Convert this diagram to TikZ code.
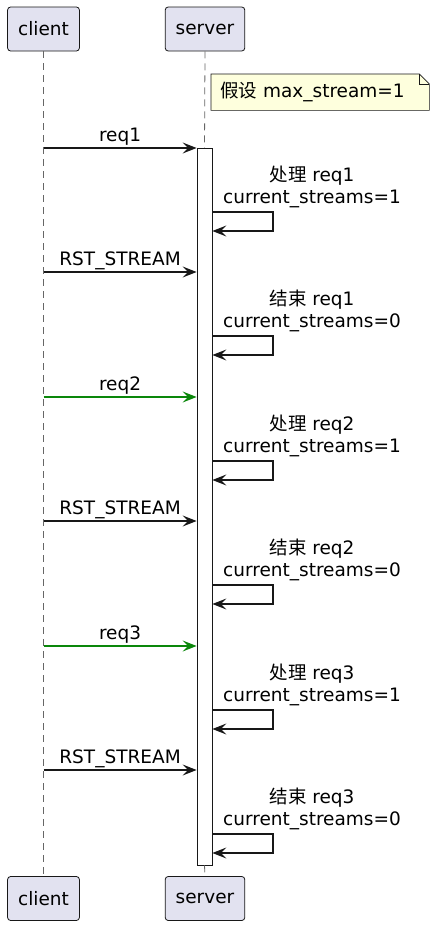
\documentclass[tikz,border=0pt]{standalone}
\usepackage{fontspec}
\setmainfont{DejaVu Sans}
\newfontfamily\cjk{Noto Sans CJK SC}
\usepackage{xcolor}
\usepackage{tikz}
\usetikzlibrary{positioning,arrows.meta}
\definecolor{partfill}{HTML}{E2E2F0}
\definecolor{notefill}{HTML}{FEFFDD}
\definecolor{ink}{HTML}{181818}
\definecolor{msggreen}{HTML}{0A870A}
\newcommand{\diagfont}{\fontsize{18.5}{22}\selectfont}

\begin{document}
\begin{tikzpicture}[x=1pt, y=-1pt,
  part/.style={draw=ink, fill=partfill, rounded corners=3pt, line width=0.8pt,
               minimum height=44pt, inner xsep=10.5pt, font=\diagfont},
  life/.style={draw=black!60, line width=0.8pt, dash pattern=on 7pt off 5pt},
  msg/.style={-{Stealth[length=14pt,width=11pt,inset=5.5pt]}, line width=1.1pt, color=ink},
  lbl/.style={font=\diagfont, inner sep=0pt, text=black},
]
\useasboundingbox (0,0) rectangle (439,929);

% participants
\node[part] (cliT) at (43.5,29) {client};
\node[part] (srvT) at (205,29) {server};
\node[part] (cliB) at (43.5,898.5) {client};
\node[part] (srvB) at (205,898.5) {server};

% lifelines and activation
\node[draw=ink, fill=white, line width=0.8pt, minimum width=15pt, minimum height=717pt,
      inner sep=0pt] (act) at (204.5,506.5) {};
\draw[life] (cliT.south) -- (cliB.north);
\draw[life] (srvT.south) -- (act.north);
\draw[life] (act.south) -- (srvB.north);

% note
\node[minimum width=218pt, minimum height=36pt, inner sep=0pt, anchor=north west] (note) at (211,74) {};
\draw[ink, fill=notefill, line width=0.6pt] (note.north west) -- ([xshift=-10pt]note.north east)
  -- ([yshift=-10pt]note.north east) -- (note.south east) -- (note.south west) -- cycle;
\draw[ink, line width=0.6pt] ([xshift=-10pt]note.north east) -- ([xshift=-10pt,yshift=-10pt]note.north east)
  -- ([yshift=-10pt]note.north east);
\node[lbl, anchor=west] (noteT) at ([xshift=9pt]note.west) {{\cjk 假设} max\_stream=1};

% messages
\foreach \n/\y/\c in {1/148/ink, 2/397/msggreen, 3/646/msggreen} {
  \coordinate (req\n) at (43.5,\y);
  \draw[msg, color=\c] (req\n) -- (act.west |- req\n)
    node[lbl, midway, anchor=base, yshift=6.5pt] (reqL\n) {req\n};

  \coordinate (doA\n) at (273,\y+64);
  \coordinate (doB\n) at (273,\y+83);
  \draw[msg] (act.east |- doA\n) -- (doA\n) -- (doB\n) -- (act.east |- doB\n);
  \node[lbl, align=center, anchor=south] (doL\n) at (312,\y+60) {{\cjk 处理} req\n\\current\_streams=1};

  \coordinate (rst\n) at (43.5,\y+124);
  \draw[msg] (rst\n) -- (act.west |- rst\n)
    node[lbl, midway, anchor=base, yshift=6.5pt] (rstL\n) {RST\_STREAM};

  \coordinate (endA\n) at (273,\y+188);
  \coordinate (endB\n) at (273,\y+207);
  \draw[msg] (act.east |- endA\n) -- (endA\n) -- (endB\n) -- (act.east |- endB\n);
  \node[lbl, align=center, anchor=south] (endL\n) at (312,\y+184) {{\cjk 结束} req\n\\current\_streams=0};
}
\end{tikzpicture}
\end{document}
